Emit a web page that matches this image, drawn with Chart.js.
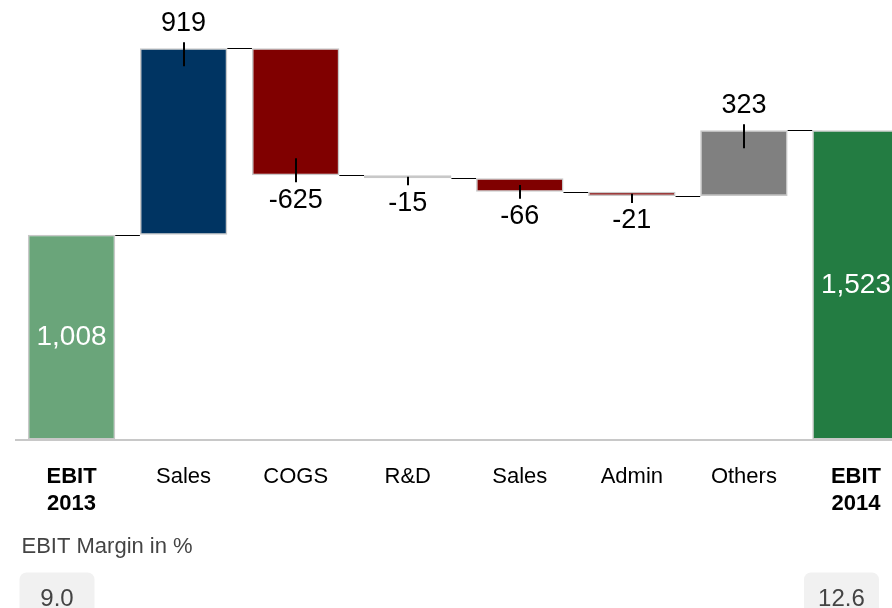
<!DOCTYPE html>
<html>
<head>
<meta charset="utf-8">
<script src="https://cdn.jsdelivr.net/npm/chart.js@4.4.6/dist/chart.umd.min.js"></script>
<style>
  html, body { margin: 0; padding: 0; overflow: hidden; background: #fff; }
</style>
</head>
<body>
<canvas id="chart" width="912" height="608"></canvas>
<script>
const categories = [["EBIT", "2013"], "Sales", "COGS", "R&D", "Sales", "Admin", "Others", ["EBIT", "2014"]];
const values = [1008, 919, -625, -15, -66, -21, 323, 1523];
const isTotal = [true, false, false, false, false, false, false, true];
const marginLabel = "EBIT Margin in %";
const marginValues = [9.0, 12.6];
const marginIndex = [0, 7];

const barColors = ["#6aa57a", "#003462", "#800000", "#800000", "#800000", "#800000", "#808080", "#237c42"];
const FONT = "'Liberation Sans', Arial, sans-serif";

// floating [start, end] for each bar, totals sit on zero
let running = 0;
const ranges = values.map((v, i) => {
  if (isTotal[i]) {
    running = v;
    return [0, v];
  }
  const r = [running, running + v];
  running += v;
  return r;
});

const waterfallDecor = {
  id: "waterfallDecor",
  afterDatasetsDraw(chart) {
    const ctx = chart.ctx;
    const meta = chart.getDatasetMeta(0);
    const y = chart.scales.y;
    ctx.save();

    // connector lines between bars
    ctx.strokeStyle = "#000";
    ctx.lineWidth = 1;
    for (let i = 0; i < meta.data.length - 1; i++) {
      const a = meta.data[i], b = meta.data[i + 1];
      const level = Math.round(y.getPixelForValue(ranges[i][1])) + 0.5;
      ctx.beginPath();
      ctx.moveTo(a.x + a.width / 2, level);
      ctx.lineTo(b.x - b.width / 2, level);
      ctx.stroke();
    }

    // value labels
    ctx.textAlign = "center";
    ctx.textBaseline = "middle";
    meta.data.forEach((bar, i) => {
      const v = values[i];
      const txt = v.toLocaleString("en-US");
      const top = Math.min(bar.y, bar.base);
      const bot = Math.max(bar.y, bar.base);
      const mid = (top + bot) / 2;
      if (isTotal[i]) {
        ctx.font = "28px " + FONT;
        ctx.fillStyle = "#fff";
        ctx.fillText(txt, bar.x, mid);
        return;
      }
      let y1, y2, ty;
      if (v >= 0) {
        y1 = top - 6; y2 = Math.min(top + 18, mid); ty = y1 - 19;
      } else {
        y1 = bot + 7; y2 = Math.max(bot - 17, mid); ty = y1 + 18;
      }
      ctx.strokeStyle = "#000";
      ctx.lineWidth = 2;
      ctx.beginPath();
      ctx.moveTo(Math.round(bar.x), y1);
      ctx.lineTo(Math.round(bar.x), y2);
      ctx.stroke();
      ctx.font = "27px " + FONT;
      ctx.fillStyle = "#000";
      ctx.fillText(txt, bar.x, ty);
    });
    ctx.restore();
  },
  afterDraw(chart) {
    const ctx = chart.ctx;
    const x = chart.scales.x;
    ctx.save();
    ctx.font = "22px " + FONT;
    ctx.fillStyle = "#444";
    ctx.textAlign = "left";
    ctx.textBaseline = "middle";
    const rowY = chart.chartArea.bottom + 107;
    ctx.fillText(marginLabel, chart.chartArea.left + 6, rowY);

    const boxTop = rowY + 26;
    marginValues.forEach((m, k) => {
      const left = x.getPixelForValue(marginIndex[k]) - 52;
      ctx.fillStyle = "#f1f1f1";
      ctx.beginPath();
      ctx.roundRect(left, boxTop, 75, 60, 7);
      ctx.fill();
      ctx.fillStyle = "#444";
      ctx.font = "24px " + FONT;
      ctx.textAlign = "center";
      ctx.fillText(m.toFixed(1), left + 37.5, boxTop + 27);
    });
    ctx.restore();
  }
};

new Chart(document.getElementById("chart"), {
  type: "bar",
  data: {
    labels: categories,
    datasets: [{
      data: ranges,
      backgroundColor: barColors,
      borderColor: "#c8c8c8",
      borderWidth: 1.5,
      borderSkipped: false,
      barPercentage: 0.78,
      categoryPercentage: 1
    }]
  },
  options: {
    responsive: false,
    animation: false,
    devicePixelRatio: 1,
    layout: { padding: { left: 15.5, right: 0, top: 0, bottom: 67.5 } },
    plugins: { legend: { display: false }, tooltip: { enabled: false } },
    scales: {
      x: {
        grid: { display: false, drawTicks: false },
        border: { display: true, color: "#c8c8c8", width: 2 },
        ticks: {
          padding: 23.5,
          color: "#000",
          maxRotation: 0,
          autoSkip: false,
          font: (c) => ({ family: FONT, size: 22, lineHeight: "27px", weight: isTotal[c.index] ? "bold" : "normal" })
        }
      },
      y: { display: false, min: 0, max: 2165 }
    }
  },
  plugins: [waterfallDecor]
});
</script>
</body>
</html>
